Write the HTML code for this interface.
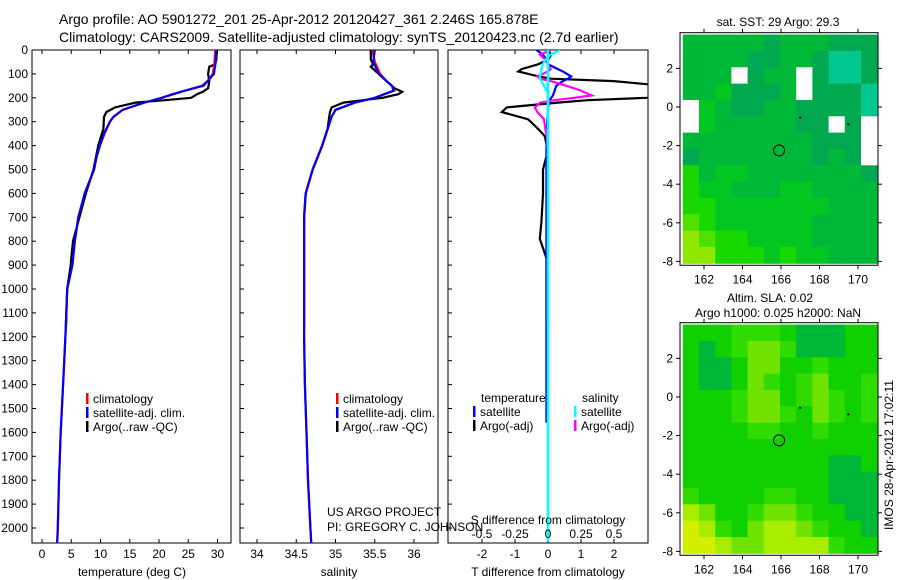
<!DOCTYPE html>
<html><head><meta charset="utf-8"><style>
body{margin:0;background:#fff;}
svg{display:block;font-family:"Liberation Sans",sans-serif;}
</style></head><body>
<svg id="c" width="900" height="580" xmlns="http://www.w3.org/2000/svg">
<text x="59" y="24" font-size="14">Argo profile: AO 5901272_201 25-Apr-2012 20120427_361 2.246S 165.878E</text>
<text x="59" y="42" font-size="14">Climatology: CARS2009. Satellite-adjusted climatology: synTS_20120423.nc (2.7d earlier)</text>
</svg>
<script>
const depthTicks=[0,100,200,300,400,500,600,700,800,900,1000,1100,1200,1300,1400,1500,1600,1700,1800,1900,2000];
const tTicks=[0,5,10,15,20,25,30];
const sTicks=[34,34.5,35,35.5,36];
const dtTicks=[-2,-1,0,1,2];
const dsTicks=[-0.5,-0.25,0,0.25,0.5];
const climDepth=[0,50,100,130,150,170,185,200,220,250,280,300,350,400,450,500,600,700,800,900,1000,1200,1400,1600,1800,2000,2060];
const climT=[29.6,29.5,29.2,28.3,27.3,24.5,22.5,20.5,17.5,13.8,12.2,11.6,10.7,9.9,9.3,8.9,7.3,6.2,5.6,5.2,4.3,4.0,3.6,3.2,2.9,2.7,2.6];
const climTsat=[29.8,29.7,29.4,28.3,27.6,24.5,22.3,20.5,17.5,13.8,12.2,11.6,10.6,9.9,9.3,8.9,7.3,6.2,5.6,5.2,4.3,4.0,3.6,3.2,2.9,2.7,2.6];
const argoDepth=[0,40,60,70,100,130,160,175,185,200,210,220,240,260,280,330,400,500,600,700,800,870,900,1000,1160];
const argoT=[29.9,29.8,29.6,28.6,28.4,28.6,28.4,27.5,26.5,25.5,21,16,12.5,11,10.6,10.5,9.6,8.8,7.5,6.4,5.3,5.0,4.9,4.3,4.1];
const climS=[35.47,35.5,35.57,35.65,35.72,35.75,35.62,35.5,35.25,35.0,34.95,34.93,34.88,34.83,34.77,34.71,34.62,34.6,34.6,34.6,34.6,34.6,34.61,34.63,34.65,34.68,34.69];
const climSsat=[35.5,35.48,35.55,35.65,35.72,35.74,35.62,35.5,35.25,35.0,34.95,34.93,34.88,34.83,34.77,34.71,34.62,34.6,34.6,34.6,34.6,34.6,34.61,34.63,34.65,34.68,34.69];
const argoS=[35.45,35.45,35.48,35.45,35.55,35.65,35.75,35.85,35.8,35.6,35.35,35.1,34.95,34.93,34.92,34.9,34.83,34.71,34.62,34.6,34.6,34.6,34.6,34.6,34.6];
const diffDepth=[0,20,40,60,80,90,110,120,130,150,170,190,200,210,220,240,260,290,330,360,420,500,600,720,790,890,1000,1160];
const dT_argo=[0,0.1,0,-0.3,-0.8,-0.9,-0.3,0.1,2,3.5,4,3.5,3,1.2,0.3,-1.25,-1.4,-0.6,-0.3,-0.1,0,-0.15,-0.15,-0.2,-0.25,0,0,0];
const dT_sat=[-0.35,-0.15,-0.05,0,0.3,0.45,0.7,0.6,0.45,0.25,0.2,0.15,0.1,0.05,0.05,0,0,-0.02,-0.03,-0.04,-0.05,-0.05,-0.05,-0.05,-0.05,-0.05,-0.05,-0.05];
const dS_argo=[0.02,-0.06,-0.02,0.0,0.02,0.0,-0.08,-0.06,0.02,0.14,0.25,0.33,0.2,0.05,-0.06,-0.1,-0.08,-0.03,-0.02,-0.01,0,0,0,0,0,0,0,0];
const dS_sat=[0.09,0.02,-0.02,-0.04,-0.05,-0.05,-0.06,-0.06,-0.05,-0.03,-0.01,0,0,0,0,0,0,0,0,0,0,0,0,0,0,0,0,0];
const deepDepth=[1160,1560];
const dT_satDeep=[-0.05,-0.05];
const depthFull=[0,2060];
const dS_satDeep=[0,0];
const lonTicks=[162,164,166,168,170];
const latTicks=[2,0,-2,-4,-6,-8];
const sstRows=["111110111000","111100110770","111W011W0770","1120001W0007","W21001100007","W21111100W0W","11111111000W","01111111010W","312211111110","322111221111","332222222111","432222221111","543322221111","553332322111"];
const slaRows=["222333211122","212344311122","211244223222","211243234223","222344234323","222344324323","222233223222","222222222222","222222222112","222222222111","322223322111","542234432211","653245543221","665445555322"];
const mapMarksLon=[165.9,167.0,169.5];
const mapMarksLat=[-2.25,-0.55,-0.9];

const svg=document.getElementById('c');
const NS='http://www.w3.org/2000/svg';
function mk(tag,attrs,parent){const e=document.createElementNS(NS,tag);for(const k in attrs)e.setAttribute(k,attrs[k]);(parent||svg).appendChild(e);return e;}
function txt(x,y,s,size,anchor,parent){const t=mk('text',{x:x,y:y,'font-size':size||12,'text-anchor':anchor||'start'},parent);t.textContent=s;return t;}
const Y0=50,YPX=0.239;
const yD=d=>Y0+d*YPX;
function line(xs,ys,fx,color,name,clip,w){
  let d='';for(let i=0;i<ys.length;i++){d+=(i?'L':'M')+fx(xs[i]).toFixed(1)+','+yD(ys[i]).toFixed(1);}
  const p=mk('path',{d:d,fill:'none',stroke:color,'stroke-width':w||2.2,'clip-path':clip?'url(#'+clip+')':''});
  
  
  return p;
}
const defs=mk('defs',{});
function panel(x0,x1,id,name){
  const cp=mk('clipPath',{id:id},defs);mk('rect',{x:x0,y:50,width:x1-x0,height:493},cp);
  const r=mk('rect',{x:x0,y:50,width:x1-x0,height:493,fill:'none',stroke:'#000','stroke-width':1});
  
  
}
panel(32,231,'cp1','temperature-panel');
const xT=v=>42+v*5.85;
depthTicks.forEach(d=>{const t=txt(28,yD(d)+4,String(d),12,'end');mk('line',{x1:32,x2:36,y1:yD(d),y2:yD(d),stroke:'#000'});mk('line',{x1:240,x2:244,y1:yD(d),y2:yD(d),stroke:'#000'});mk('line',{x1:448,x2:452,y1:yD(d),y2:yD(d),stroke:'#000'});});
tTicks.forEach(v=>{const t=txt(xT(v),558,String(v),12,'middle');mk('line',{x1:xT(v),x2:xT(v),y1:543,y2:539,stroke:'#000'});mk('line',{x1:xT(v),x2:xT(v),y1:50,y2:54,stroke:'#000'});});
line(argoT,argoDepth,xT,'#000','argo-temperature-line','cp1');
line(climT,climDepth,xT,'#f00','climatology-temperature-line','cp1');
line(climTsat,climDepth,xT,'#00f','satellite-temperature-line','cp1');
let t=txt(132,576,'temperature (deg C)',12,'middle');
function legend(x,y,items,parentName){
  items.forEach((it,i)=>{mk('rect',{x:x,y:y+i*14-10,width:2.5,height:11,fill:it[1]});const e=txt(x+7,y+i*14,it[0],12);});
}
legend(86,403,[['climatology','#f00'],['satellite-adj. clim.','#00f'],['Argo(..raw -QC)','#000']],'temperature-legend');
panel(240,438,'cp2','salinity-panel');
const xS=v=>257+(v-34)*78.5;
sTicks.forEach(v=>{const t=txt(xS(v),558,String(v),12,'middle');mk('line',{x1:xS(v),x2:xS(v),y1:543,y2:539,stroke:'#000'});mk('line',{x1:xS(v),x2:xS(v),y1:50,y2:54,stroke:'#000'});});
line(argoS,argoDepth,xS,'#000','argo-salinity-line','cp2');
line(climS,climDepth,xS,'#f00','climatology-salinity-line','cp2');
line(climSsat,climDepth,xS,'#00f','satellite-salinity-line','cp2');
t=txt(339,576,'salinity',12,'middle');
legend(336,403,[['climatology','#f00'],['satellite-adj. clim.','#00f'],['Argo(..raw -QC)','#000']],'salinity-legend');
panel(448,648,'cp3','difference-panel');
const xDT=v=>548+v*33;
const xDS=v=>548+v*132;
dtTicks.forEach(v=>{const t=txt(xDT(v),558,String(v),12,'middle');mk('line',{x1:xDT(v),x2:xDT(v),y1:543,y2:539,stroke:'#000'});mk('line',{x1:xDT(v),x2:xDT(v),y1:50,y2:54,stroke:'#000'});});
line(dT_argo,diffDepth,xDT,'#000','argo-t-difference-line','cp3');
line(dT_sat,diffDepth,xDT,'#00f','satellite-t-difference-line','cp3');
line(dT_satDeep,deepDepth,xDT,'#00f','satellite-t-difference-deep-line','cp3');
line(dS_argo,diffDepth,xDS,'#f0f','argo-s-difference-line','cp3');
line(dS_sat,diffDepth,xDS,'#0ff','satellite-s-difference-line','cp3');
line(dS_satDeep,depthFull,xDS,'#0ff','satellite-s-difference-deep-line','cp3',2.6);
dsTicks.forEach(v=>{const t=txt(xDS(v),538,String(v),12,'middle');});
t=txt(548,524,'S difference from climatology',12,'middle');
t=txt(548,576,'T difference from climatology',12,'middle');
t=txt(481,402,'temperature',12);
t=txt(582,402,'salinity',12);
legend(473,416,[['satellite','#00f'],['Argo(-adj)','#000']],'t-diff-legend');
legend(574,416,[['satellite','#0ff'],['Argo(-adj)','#f0f']],'s-diff-legend');
t=txt(327,516,'US ARGO PROJECT',12);
t=txt(327,531,'PI: GREGORY C. JOHNSON',12);
const pal={'0':'#00a850','1':'#00b838','2':'#00c820','3':'#18d800','4':'#50e000','5':'#90e800','6':'#c4f000','7':'#00c890','W':'#ffffff'};
const slaPal={'1':'#00b838','2':'#10d000','3':'#30dc00','4':'#70e400','5':'#a8ec00','6':'#d0f000'};
function map(rows,palette,y0lat,title,name){
  const xL=v=>704+(v-162)*19.25;
  const yL=v=>y0lat-v*19.3;
  const g=mk('g',{});
  const lon0=160.9,lon1=171,lat0=3.75,lat1=-8.1;
  const nr=rows.length,nc=rows[0].length;
  rows.forEach((r,i)=>{for(let j=0;j<nc;j++){
    const la=lat0+(lat1-lat0)*i/nr,la2=lat0+(lat1-lat0)*(i+1)/nr;
    const lo=lon0+(lon1-lon0)*j/nc,lo2=lon0+(lon1-lon0)*(j+1)/nc;
    const c=mk('rect',{x:xL(lo).toFixed(1),y:yL(la).toFixed(1),width:(xL(lo2)-xL(lo)+0.5).toFixed(1),height:(yL(la2)-yL(la)+0.5).toFixed(1),fill:palette[r[j]]},g);
    
    
  }});
  const fr=mk('rect',{x:680,y:yL(3.85),width:198,height:yL(-8.2)-yL(3.85),fill:'none',stroke:'#000'});
  
  const bot=yL(-8.2);
  lonTicks.forEach(v=>{const e=txt(xL(v),bot+18,String(v),12,'middle');mk('line',{x1:xL(v),x2:xL(v),y1:bot,y2:bot+4,stroke:'#000'});mk('line',{x1:xL(v),x2:xL(v),y1:yL(3.85),y2:yL(3.85)-4,stroke:'#000'});});
  latTicks.forEach(v=>{const e=txt(673,yL(v)+4,String(v),12,'end');mk('line',{x1:676,x2:680,y1:yL(v),y2:yL(v),stroke:'#000'});mk('line',{x1:878,x2:882,y1:yL(v),y2:yL(v),stroke:'#000'});});
  const ci=mk('circle',{cx:xL(mapMarksLon[0]),cy:yL(mapMarksLat[0]),r:5.5,fill:'none',stroke:'#000'});
  
  for(let k=1;k<mapMarksLon.length;k++){const d=mk('rect',{x:xL(mapMarksLon[k])-1,y:yL(mapMarksLat[k])-1,width:2,height:2,fill:'#000'});}
}
map(sstRows,pal,107,'','sst-map');
map(slaRows,slaPal,397,'','sla-map');
t=txt(778,26,'sat. SST: 29 Argo: 29.3',12,'middle');
t=txt(770,302,'Altim. SLA: 0.02',12,'middle');
t=txt(778,317,'Argo h1000: 0.025 h2000: NaN',12,'middle');
t=txt(0,0,'IMOS 28-Apr-2012 17:02:11',12,'middle');t.setAttribute('transform','translate(893,455) rotate(-90)');
</script>
</body></html>
